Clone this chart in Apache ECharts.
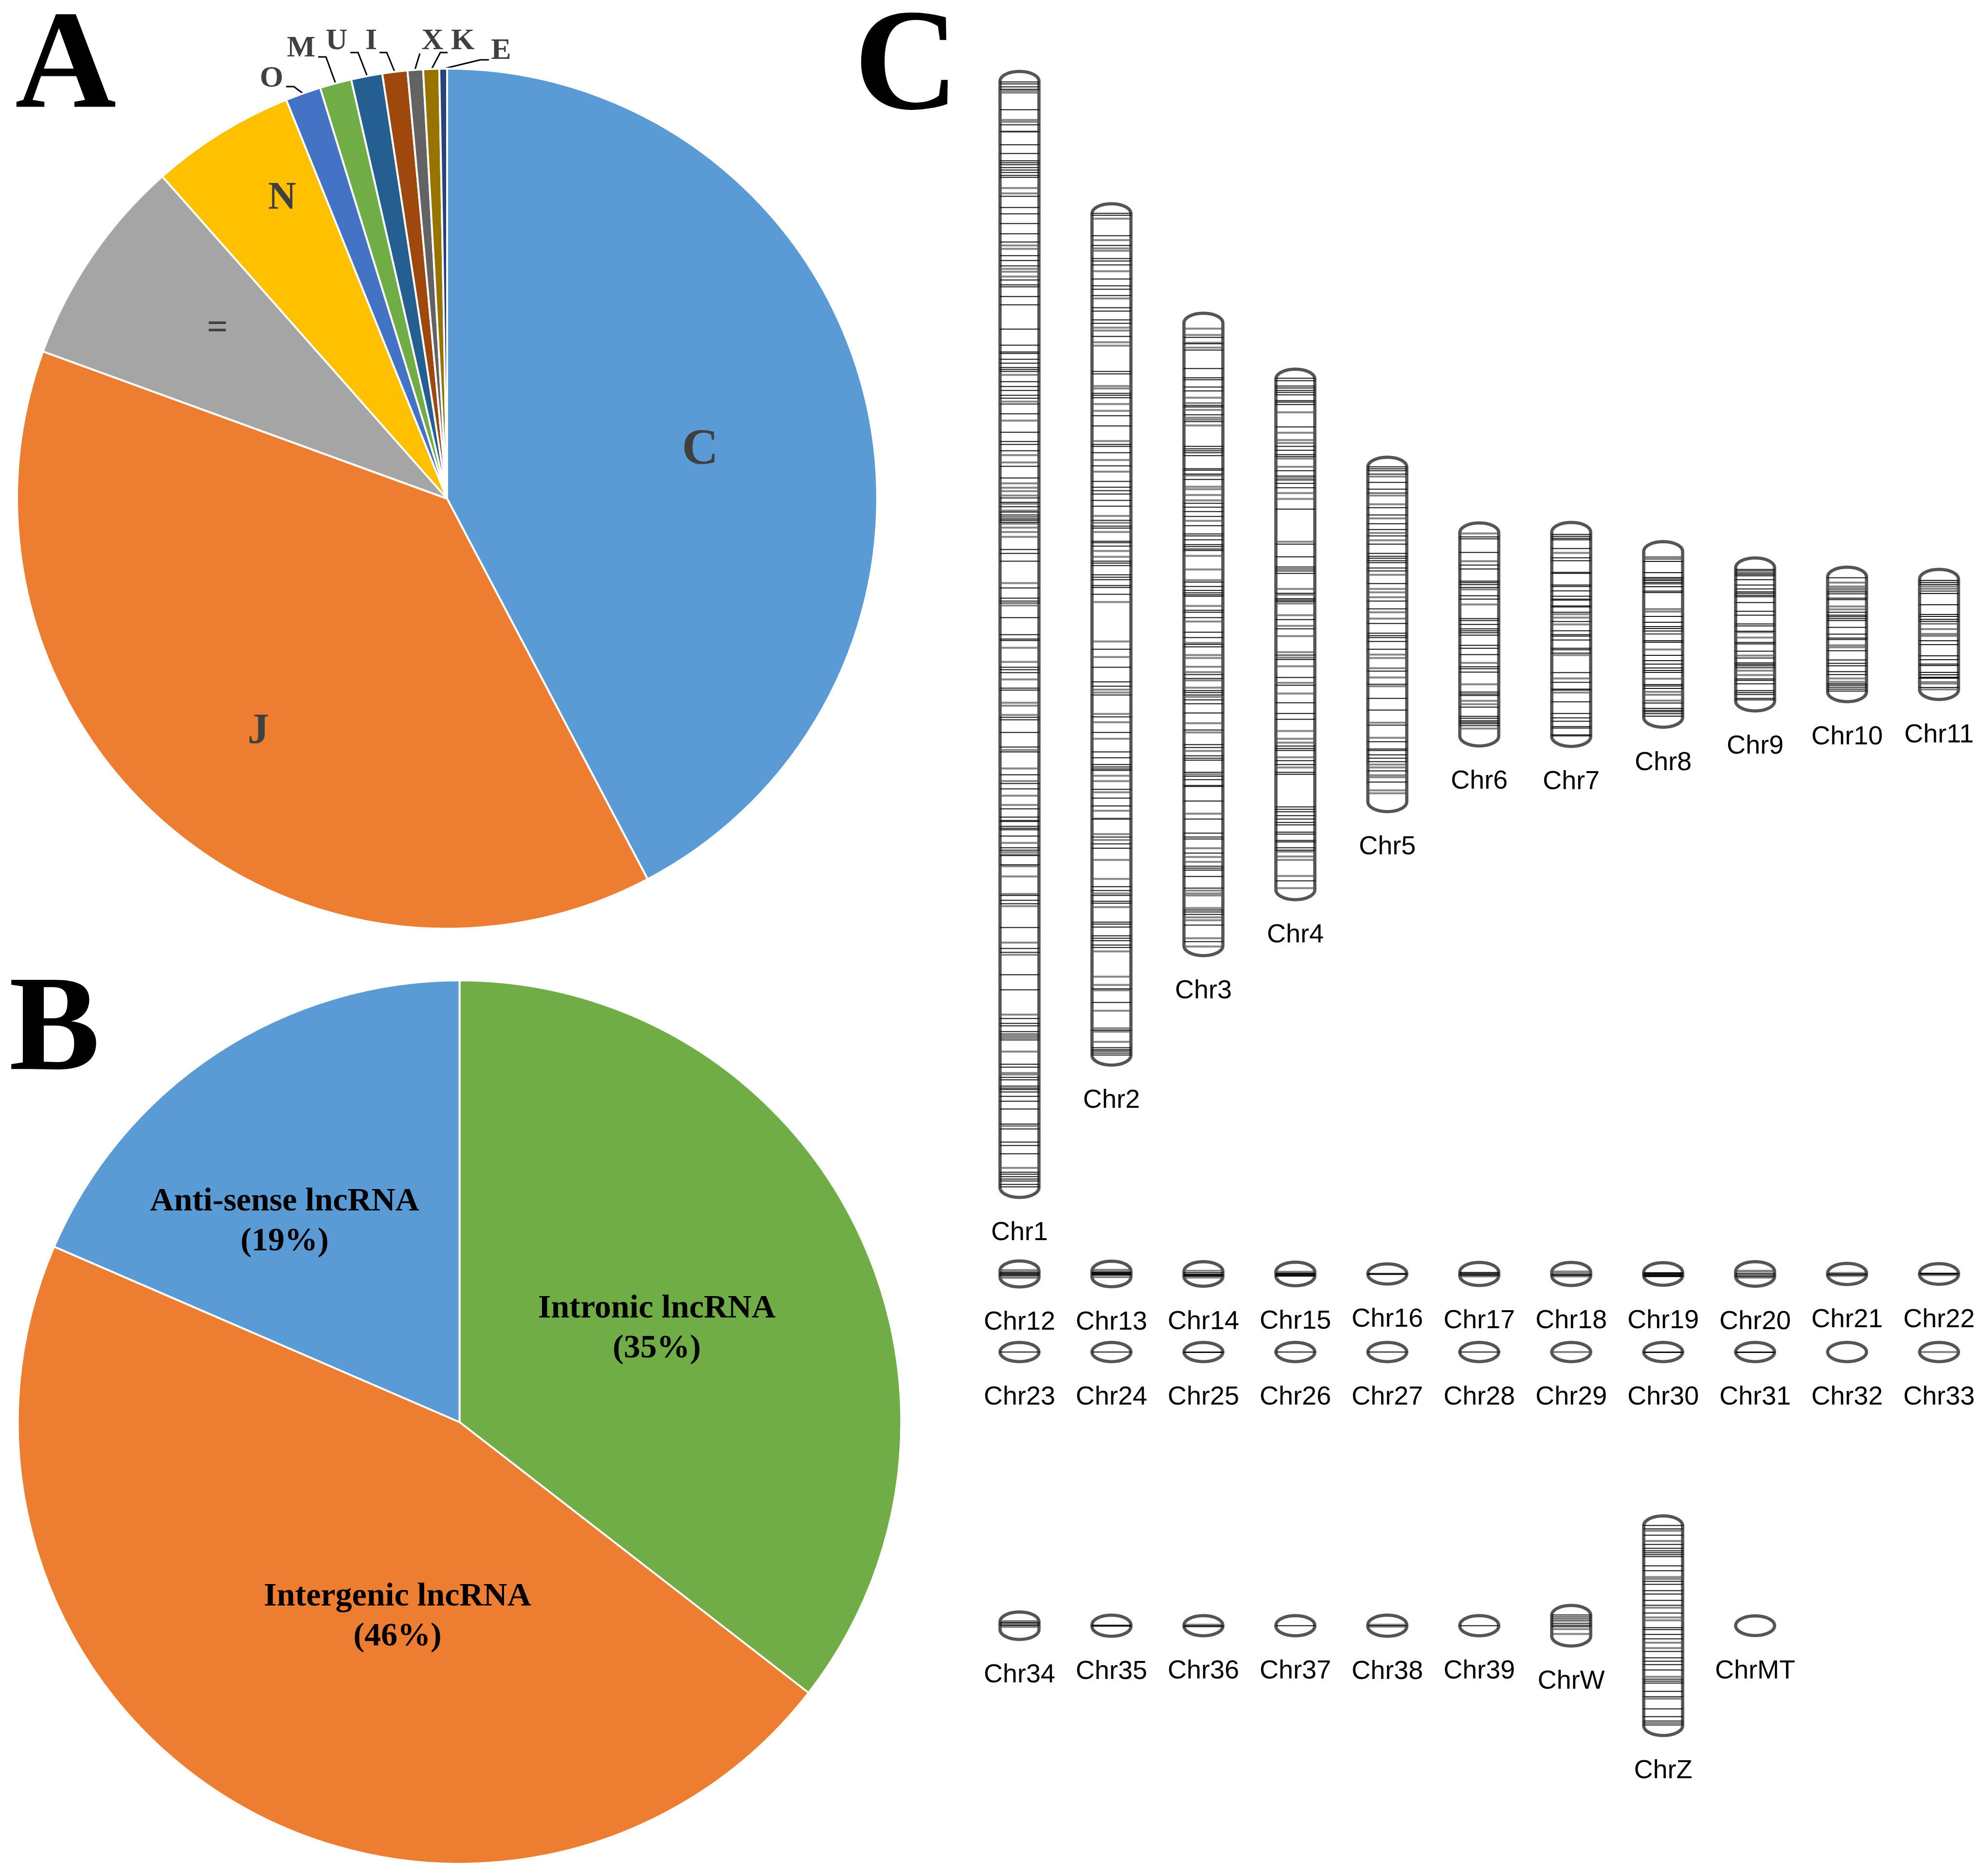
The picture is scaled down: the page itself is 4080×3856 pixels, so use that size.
<!DOCTYPE html>
<html>
<head>
<meta charset="utf-8">
<title>lncRNA classes and chromosome distribution</title>
<script src="https://cdn.jsdelivr.net/npm/echarts@6/dist/echarts.min.js"></script>
<style>
html, body { margin: 0; padding: 0; background: #fff; }
#main { width: 4080px; height: 3856px; }
</style>
</head>
<body>
<div id="main"></div>
<script>
// panel A, class code shares (%)
var codeNames = ['C', 'J', '=', 'N', 'O', 'M', 'U', 'I', 'X', 'K', 'E'];
var codeValues = [42.28, 38.28, 7.92, 5.42, 1.33, 1.19, 1.17, 0.94, 0.58, 0.60, 0.29];

// panel B, lncRNA types (%)
var typeNames = ['Intronic lncRNA\n(35%)', 'Intergenic lncRNA\n(46%)', 'Anti-sense lncRNA\n(19%)'];
var typeValues = [35.5, 46, 18.5];

// panel C, chromosome rows
var row1 = ['Chr1', 'Chr2', 'Chr3', 'Chr4', 'Chr5', 'Chr6', 'Chr7', 'Chr8', 'Chr9', 'Chr10', 'Chr11'];
var row2 = ['Chr12', 'Chr13', 'Chr14', 'Chr15', 'Chr16', 'Chr17', 'Chr18', 'Chr19', 'Chr20', 'Chr21', 'Chr22'];
var row3 = ['Chr23', 'Chr24', 'Chr25', 'Chr26', 'Chr27', 'Chr28', 'Chr29', 'Chr30', 'Chr31', 'Chr32', 'Chr33'];
var row4 = ['Chr34', 'Chr35', 'Chr36', 'Chr37', 'Chr38', 'Chr39', 'ChrW', 'ChrZ', 'ChrMT'];
var row1Len = [2321, 1777, 1327, 1097, 735, 465, 467, 388, 321, 283, 274];
var row2Len = [60, 59, 57, 55, 48, 54, 54, 53, 57, 50, 49];
var row3Len = [46, 46, 46, 46, 46, 46, 46, 46, 46, 46, 46];
var row4Len = [63, 50, 48, 48, 50, 48, 90, 458, 47];

// band positions along each chromosome, from its top end
var chr1Dark = [25, 29, 35, 40, 82, 113, 127, 154, 172, 187, 191, 195, 201, 206, 211, 217, 221, 260, 283, 296, 316, 337, 354, 382, 392, 403, 432, 442, 446, 466, 483, 533, 566, 580, 583, 595, 603, 612, 616, 620, 641, 651, 659, 669, 675, 687, 707, 745, 764, 770, 783, 815, 839, 880, 889, 898, 909, 915, 919, 923, 926, 930, 986, 994, 1010, 1065, 1086, 1092, 1096, 1126, 1161, 1170, 1173, 1228, 1233, 1239, 1271, 1275, 1331, 1336, 1362, 1392, 1402, 1449, 1467, 1478, 1519, 1536, 1543, 1545, 1555, 1559, 1562, 1575, 1599, 1604, 1615, 1634, 1697, 1707, 1714, 1763, 1806, 1814, 1860, 1891, 1950, 1960, 1965, 1977, 1982, 1986, 1990, 1994, 2044, 2050, 2071, 2076, 2089, 2093, 2096, 2101, 2110, 2120, 2136, 2167, 2177, 2204, 2211, 2228, 2266, 2270, 2275, 2280, 2284, 2291, 2296];
var chr1Gray = [43, 47, 103, 107, 127, 243, 254, 361, 368, 409, 415, 425, 627, 682, 721, 792, 807, 850, 859, 866, 875, 892, 906, 933, 941, 950, 960, 1055, 1101, 1188, 1217, 1253, 1301, 1307, 1326, 1398, 1436, 1462, 1492, 1511, 1589, 1608, 1613, 1637, 1658, 1694, 1719, 1794, 1819, 1942, 2018, 2062, 2065, 2171, 2257];
var chr2Dark = [23, 27, 69, 89, 116, 121, 129, 158, 172, 179, 192, 217, 224, 242, 249, 276, 348, 353, 393, 397, 402, 439, 460, 498, 502, 515, 542, 574, 586, 593, 600, 613, 625, 654, 666, 670, 697, 700, 707, 738, 742, 747, 766, 771, 776, 788, 792, 806, 919, 956, 986, 995, 1013, 1058, 1090, 1130, 1142, 1156, 1161, 1165, 1168, 1207, 1225, 1241, 1268, 1305, 1319, 1328, 1407, 1415, 1425, 1437, 1441, 1480, 1484, 1490, 1508, 1513, 1518, 1527, 1532, 1617, 1645, 1702, 1738, 1742, 1745, 1749, 1753];
var chr2Gray = [34, 78, 95, 100, 142, 198, 258, 264, 288, 295, 378, 383, 415, 429, 491, 530, 554, 645, 659, 678, 717, 729, 822, 903, 935, 1002, 1008, 1052, 1069, 1103, 1179, 1190, 1213, 1251, 1267, 1299, 1311, 1352, 1391, 1421, 1449, 1540, 1592, 1609, 1620, 1662, 1698, 1705, 1726];
var chr3Dark = [53, 66, 79, 117, 136, 140, 155, 163, 193, 196, 212, 226, 277, 282, 286, 290, 296, 323, 326, 334, 345, 394, 402, 411, 421, 440, 457, 461, 469, 479, 483, 488, 491, 556, 565, 573, 578, 582, 585, 614, 618, 629, 659, 670, 684, 689, 746, 754, 779, 783, 788, 798, 806, 825, 860, 890, 896, 913, 918, 922, 947, 955, 962, 974, 976, 1006, 1043, 1072, 1080, 1084, 1113, 1140, 1144, 1148, 1161, 1185, 1230, 1234, 1239, 1261, 1295];
var chr3Gray = [35, 48, 64, 74, 177, 188, 202, 218, 222, 234, 337, 360, 365, 377, 388, 430, 502, 530, 552, 605, 637, 681, 706, 712, 730, 741, 758, 773, 792, 846, 865, 903, 951, 1032, 1103, 1121, 1131, 1190, 1196, 1200, 1226, 1245, 1251, 1288, 1305];
var chr4Dark = [22, 27, 38, 42, 47, 51, 56, 68, 71, 76, 122, 162, 170, 179, 183, 212, 223, 231, 238, 247, 291, 363, 389, 410, 414, 418, 423, 464, 475, 478, 481, 518, 537, 591, 600, 637, 653, 689, 711, 723, 778, 783, 787, 808, 816, 832, 836, 903, 908, 913, 921, 928, 935, 940, 955, 959, 972, 975, 987, 992, 1055];
var chr4Gray = [92, 134, 149, 155, 187, 204, 227, 258, 270, 358, 455, 467, 485, 509, 531, 552, 585, 596, 614, 648, 670, 747, 763, 771, 801, 822, 995, 1005, 1012, 1045, 1070];
var chr5Dark = [23, 27, 31, 38, 55, 69, 77, 107, 122, 140, 152, 165, 182, 201, 207, 211, 216, 220, 231, 237, 263, 299, 315, 345, 365, 370, 374, 382, 398, 443, 470, 499, 523, 554, 588, 603, 606, 615, 622, 629, 648, 671];
var chr5Gray = [43, 82, 100, 129, 159, 174, 245, 274, 281, 291, 322, 335, 409, 416, 437, 456, 474, 549, 580, 635, 641, 657, 661, 688, 694];
var chr6Dark = [32, 36, 64, 90, 98, 123, 126, 130, 136, 153, 160, 200, 204, 212, 221, 225, 229, 234, 255, 261, 274, 299, 303, 310, 351, 355, 358, 382, 401, 405, 410, 413, 416, 420];
var chr6Gray = [25, 82, 140, 171, 291, 335, 369, 376, 426];
var chr7Dark = [28, 32, 36, 39, 57, 76, 82, 106, 108, 132, 135, 144, 155, 161, 163, 175, 177, 188, 207, 226, 234, 237, 245, 262, 265, 272, 312, 332, 346, 348, 372, 396, 405, 412, 423, 426, 440, 442];
var chr7Gray = [66, 192, 199, 213, 276, 324, 353];
var chr8Dark = [44, 67, 77, 80, 83, 87, 90, 96, 105, 108, 157, 169, 178, 182, 187, 207, 210, 237, 248, 255, 263, 268, 272, 297, 300, 305, 335, 346, 350, 353, 357, 362];
var chr8Gray = [35, 39, 142, 147, 193, 225, 285, 312, 318, 330];
var chr9Dark = [27, 30, 34, 37, 40, 48, 59, 67, 73, 76, 80, 83, 95, 113, 121, 139, 143, 154, 177, 180, 195, 209, 219, 222, 225, 229, 252, 255, 262, 276, 280, 284, 292, 295];
var chr9Gray = [156, 167, 204, 235, 244];
var chr10Dark = [25, 54, 58, 67, 70, 96, 102, 105, 109, 113, 127, 141, 149, 152, 175, 194, 201, 206, 218, 224, 243, 246, 250, 254, 258];
var chr10Gray = [35, 43, 47, 50, 84, 90, 164, 168, 232, 239];
var chr11Dark = [26, 30, 34, 53, 76, 96, 100, 106, 110, 150, 158, 181, 189, 198, 201, 215, 220, 225, 227, 246];
var chr11Gray = [38, 43, 48, 115, 126, 136, 140, 235, 238, 250];
var chrWDark = [23, 27, 31, 35, 40, 44, 47];
var chrWGray = [52, 62];
var chrZDark = [23, 30, 43, 62, 70, 75, 79, 83, 87, 106, 116, 138, 144, 157, 164, 177, 187, 203, 233, 237, 247, 256, 282, 295, 302, 309, 320, 339, 343, 347, 364, 375, 400, 416, 425, 429, 433];
var chrZGray = [34, 55, 129, 133, 192, 212, 218, 264, 275, 334, 379];
// short chromosomes
var chr12Dark = [27, 29, 31, 33], chr12Gray = [22, 24, 36, 38];
var chr13Dark = [26, 28, 30, 32], chr13Gray = [21, 23, 36];
var chr14Dark = [26, 29, 31, 33], chr14Gray = [22, 36];
var chr15Dark = [26, 28, 30, 32], chr15Gray = [23];
var chr16Dark = [23, 24, 25];
var chr17Dark = [24, 26, 28, 30], chr17Gray = [32];
var chr18Dark = [28, 30], chr18Gray = [22, 25, 32];
var chr19Dark = [24, 26, 28, 30, 32];
var chr20Dark = [28, 31, 34], chr20Gray = [22, 24, 36];
var chr21Dark = [25, 27], chr21Gray = [23, 29];
var chr22Dark = [23, 25], chr22Gray = [27];
var chr34Dark = [25, 28, 31], chr34Gray = [22, 34];
var chr36Dark = [24, 26], chr36Gray = [22];
var chr38Dark = [25], chr38Gray = [23, 27];

var darkBands = {
    Chr1: chr1Dark, Chr2: chr2Dark, Chr3: chr3Dark, Chr4: chr4Dark, Chr5: chr5Dark, Chr6: chr6Dark,
    Chr7: chr7Dark, Chr8: chr8Dark, Chr9: chr9Dark, Chr10: chr10Dark, Chr11: chr11Dark,
    Chr12: chr12Dark, Chr13: chr13Dark, Chr14: chr14Dark, Chr15: chr15Dark, Chr16: chr16Dark,
    Chr17: chr17Dark, Chr18: chr18Dark, Chr19: chr19Dark, Chr20: chr20Dark, Chr21: chr21Dark, Chr22: chr22Dark,
    Chr23: [23], Chr24: [23], Chr25: [23, 24], Chr26: [23], Chr27: [23], Chr28: [23], Chr30: [23, 24], Chr31: [23, 24],
    Chr34: chr34Dark, Chr35: [24, 25, 26], Chr36: chr36Dark, Chr37: [24], Chr38: chr38Dark, Chr39: [24],
    ChrW: chrWDark, ChrZ: chrZDark
};
var grayBands = {
    Chr1: chr1Gray, Chr2: chr2Gray, Chr3: chr3Gray, Chr4: chr4Gray, Chr5: chr5Gray, Chr6: chr6Gray,
    Chr7: chr7Gray, Chr8: chr8Gray, Chr9: chr9Gray, Chr10: chr10Gray, Chr11: chr11Gray,
    Chr12: chr12Gray, Chr13: chr13Gray, Chr14: chr14Gray, Chr15: chr15Gray,
    Chr17: chr17Gray, Chr18: chr18Gray, Chr20: chr20Gray, Chr21: chr21Gray, Chr22: chr22Gray,
    Chr29: [23], Chr33: [23], Chr34: chr34Gray, Chr36: chr36Gray, Chr38: chr38Gray,
    ChrW: chrWGray, ChrZ: chrZGray
};

// styling and layout
var codeColors = ['#5B9BD5', '#ED7D31', '#A5A5A5', '#FFC000', '#4472C4', '#70AD47', '#255E91', '#9E480E', '#636363', '#997300', '#264478'];
var typeColors = ['#70AD47', '#ED7D31', '#5B9BD5'];
var codeFontSizes = [104, 88, 76, 80, 62, 62, 62, 62, 62, 62, 62];
var codeLabelPos = [[1439, 926], [531, 1504], [447, 676], [580, 408], [558, 162], [619, 100], [692, 85], [763, 85], [889, 85], [951, 85], [1030, 105]];
var codeLeaders = [null, null, null, null,
    [[624, 193], [604, 178], [588, 178]],
    [[690, 172], [670, 117], [654, 117]],
    [[755, 157], [736, 108], [720, 108]],
    [[811, 147], [795, 108], [780, 108]],
    [[853, 143], [858, 126], [863, 110]],
    [[887, 142], [905, 108], [920, 108]],
    [[913, 141], [987, 123], [1005, 123]]];
var typeLabelPos = [[1350, 2731], [817, 3323], [585, 2511]];
var rowCentres = [1304, 2618.5, 2779, 3341.5];

var chart = echarts.init(document.getElementById('main'), null, {renderer: 'canvas'});

var codeData = codeNames.map(function (name, i) {
    var outside = codeLeaders[i] !== null;
    return {
        name: name,
        value: codeValues[i],
        itemStyle: {color: codeColors[i]},
        label: {position: outside ? 'outside' : 'inside', fontSize: codeFontSizes[i]},
        labelLine: {show: outside}
    };
});

var typeData = typeNames.map(function (name, i) {
    return {name: name, value: typeValues[i], itemStyle: {color: typeColors[i]}};
});

var rows = [[row1, row1Len], [row2, row2Len], [row3, row3Len], [row4, row4Len]];
var chromData = [];
rows.forEach(function (row, r) {
    row[0].forEach(function (name, c) {
        chromData.push({name: name, value: [c, rowCentres[r], row[1][c]]});
    });
});

function outlinePoints(cx, top, len) {
    var halfW = 40, inset = 3.3;
    var capH = Math.min((len - 2 * inset) / 2, 20);
    var t = top + inset, b = top + len - inset;
    var pts = [];
    var i, a;
    for (i = 0; i <= 24; i++) {
        a = Math.PI * i / 24;
        pts.push([cx - halfW * Math.cos(a), t + capH - capH * Math.sin(a)]);
    }
    for (i = 0; i <= 24; i++) {
        a = Math.PI * i / 24;
        pts.push([cx + halfW * Math.cos(a), b - capH + capH * Math.sin(a)]);
    }
    return pts;
}

function renderChrom(params, api) {
    var name = chromData[params.dataIndex].name;
    var col = api.value(0), centre = api.value(1), len = api.value(2);
    var topVal = centre - len / 2;
    var cx = api.coord([col, topVal])[0];
    var top = api.coord([col, topVal])[1];
    var bottom = api.coord([col, topVal + len])[1];
    var children = [];

    (grayBands[name] || []).forEach(function (pos) {
        var y = api.coord([col, topVal + pos])[1];
        children.push({
            type: 'line',
            shape: {x1: cx - 38, y1: y, x2: cx + 38, y2: y},
            style: {stroke: '#858585', lineWidth: 4}
        });
    });
    children.push({
        type: 'polygon',
        shape: {points: outlinePoints(cx, top, len)},
        style: {fill: 'none', stroke: '#555555', lineWidth: 6.6, lineJoin: 'round'}
    });
    (darkBands[name] || []).forEach(function (pos) {
        var y = api.coord([col, topVal + pos])[1];
        children.push({
            type: 'line',
            shape: {x1: cx - 41, y1: y, x2: cx + 41, y2: y},
            style: {stroke: '#111', lineWidth: 2.2}
        });
    });
    children.push({
        type: 'text',
        style: {
            text: name,
            x: cx,
            y: bottom + 70,
            align: 'center',
            verticalAlign: 'middle',
            fontFamily: '"Liberation Sans"',
            fontSize: 54,
            fill: '#000'
        }
    });
    return {type: 'group', children: children};
}

var letterStyle = {fontFamily: '"Liberation Serif"', fontWeight: 'bold', fill: '#000', align: 'center', verticalAlign: 'middle'};

var option = {
    backgroundColor: '#fff',
    animation: false,
    graphic: {
        elements: [
            {type: 'text', x: 135, y: 145, style: Object.assign({text: 'A', fontSize: 288}, letterStyle)},
            {type: 'text', x: 112, y: 2125, style: Object.assign({text: 'B', fontSize: 280}, letterStyle)},
            {type: 'text', x: 1863, y: 146, style: Object.assign({text: 'C', fontSize: 298}, letterStyle)}
        ]
    },
    grid: {left: 2001, top: 0, width: 2084.5, height: 3856},
    xAxis: {
        type: 'category',
        data: row1.map(function (n, i) { return i; }),
        show: false
    },
    yAxis: {type: 'value', min: 0, max: 3856, inverse: true, show: false},
    series: [
        {
            type: 'pie',
            center: [919, 1025],
            radius: [0, 884],
            startAngle: 90,
            avoidLabelOverlap: false,
            data: codeData,
            itemStyle: {borderColor: '#fff', borderWidth: 4},
            label: {
                color: '#404040',
                fontFamily: '"Liberation Serif"',
                fontWeight: 'bold',
                formatter: '{b}'
            },
            labelLine: {lineStyle: {color: '#000', width: 3}},
            labelLayout: function (p) {
                var pos = codeLabelPos[p.dataIndex];
                var layout = {x: pos[0], y: pos[1], align: 'center', verticalAlign: 'middle'};
                if (codeLeaders[p.dataIndex]) {
                    layout.labelLinePoints = codeLeaders[p.dataIndex];
                }
                return layout;
            },
            emphasis: {disabled: true}
        },
        {
            type: 'pie',
            center: [944.5, 2923],
            radius: [0, 908],
            startAngle: 90,
            avoidLabelOverlap: false,
            data: typeData,
            itemStyle: {borderColor: '#fff', borderWidth: 4},
            label: {
                position: 'inside',
                color: '#000',
                fontFamily: '"Liberation Serif"',
                fontWeight: 'bold',
                fontSize: 68,
                lineHeight: 82,
                formatter: '{b}'
            },
            labelLayout: function (p) {
                var pos = typeLabelPos[p.dataIndex];
                return {x: pos[0], y: pos[1], align: 'center', verticalAlign: 'middle'};
            },
            emphasis: {disabled: true}
        },
        {
            type: 'custom',
            coordinateSystem: 'cartesian2d',
            data: chromData,
            encode: {x: 0, y: 1},
            clip: false,
            renderItem: renderChrom,
            silent: true
        }
    ]
};

chart.setOption(option);
</script>
</body>
</html>
